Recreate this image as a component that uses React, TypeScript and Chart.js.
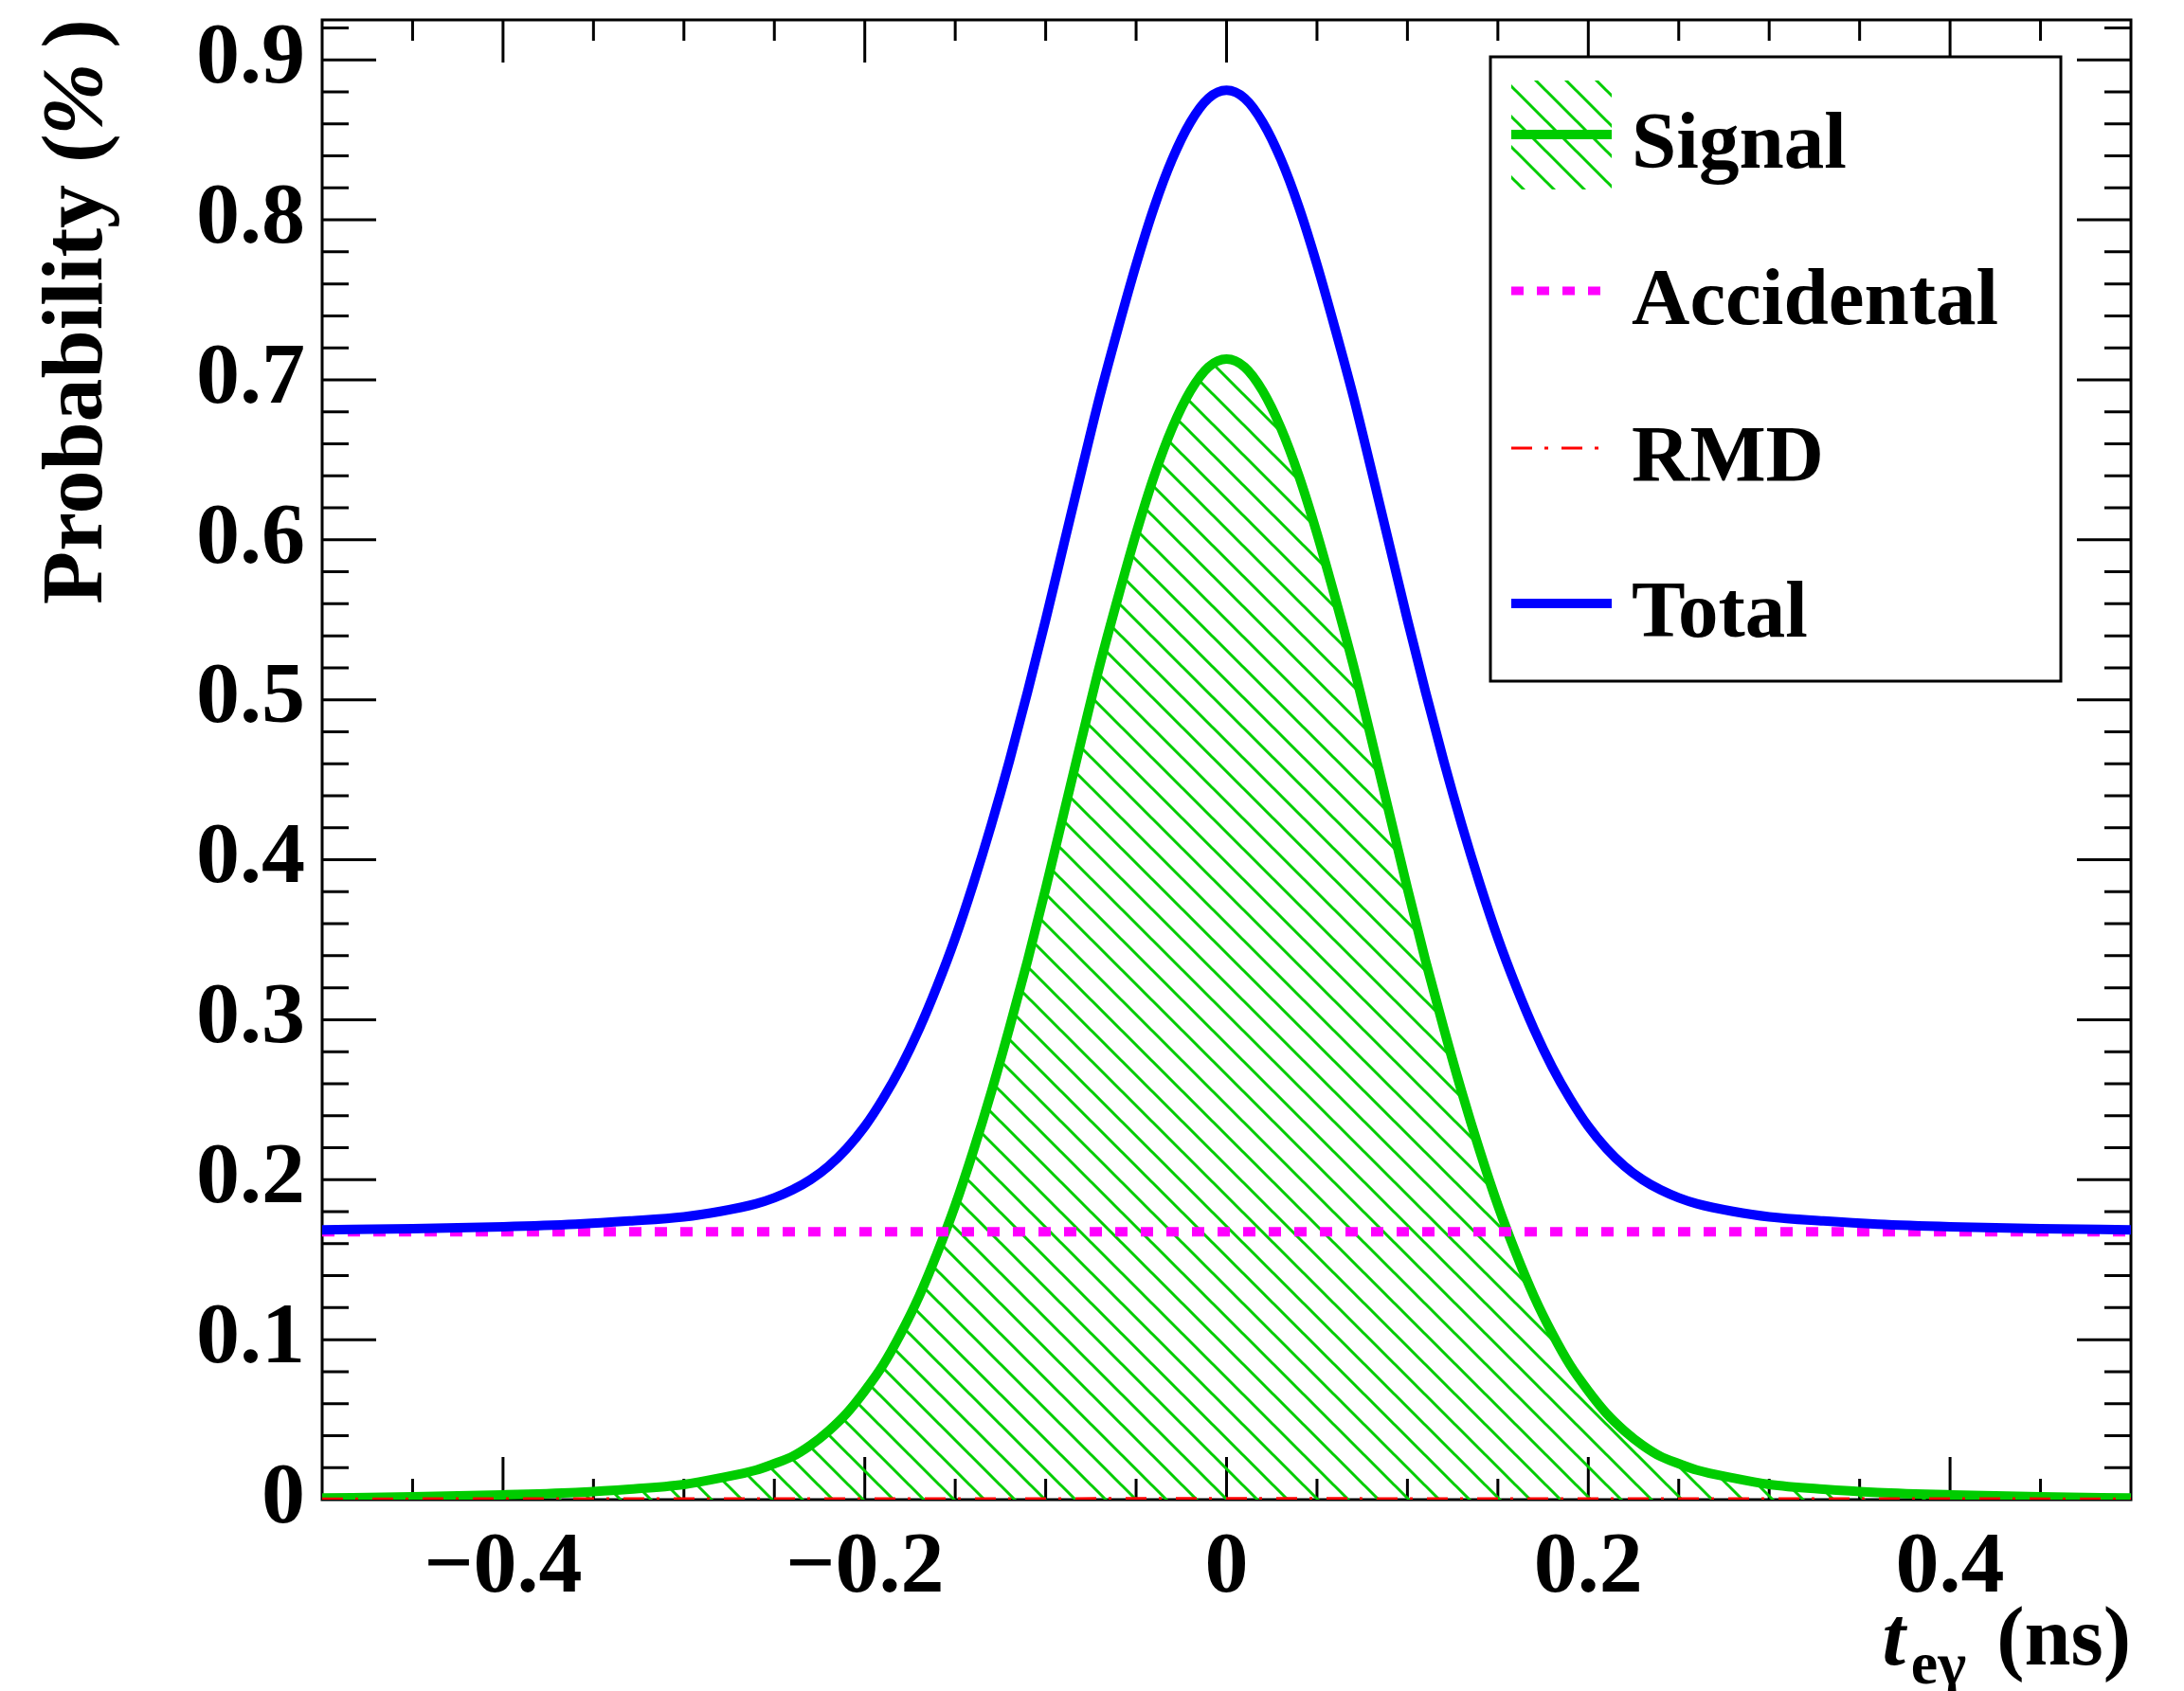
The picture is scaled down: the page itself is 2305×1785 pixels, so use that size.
import React, { useEffect, useRef } from 'react';
import { Chart, registerables } from 'chart.js';

Chart.register(...registerables);

// ---- data ----
const T_CURVE = [
  -0.5, -0.45, -0.4, -0.36, -0.33, -0.3, -0.28, -0.26, -0.25, -0.24, -0.23, -0.22, -0.21, -0.2, -0.19, -0.18,
  -0.17, -0.16, -0.15, -0.14, -0.13, -0.12, -0.11, -0.1, -0.09, -0.08, -0.07, -0.06, -0.05, -0.04, -0.03, -0.02,
  -0.01, 0, 0.01, 0.02, 0.03, 0.04, 0.05, 0.06, 0.07, 0.08, 0.09, 0.1, 0.11, 0.12, 0.13, 0.14, 0.15, 0.16, 0.17,
  0.18, 0.19, 0.2, 0.21, 0.22, 0.23, 0.24, 0.25, 0.26, 0.28, 0.3, 0.33, 0.36, 0.4, 0.45, 0.5,
];

const SIGNAL = [
  0.001, 0.0018, 0.003, 0.0045, 0.0065, 0.0095, 0.0135, 0.0185, 0.0225, 0.027, 0.034, 0.043, 0.054, 0.068, 0.084,
  0.104, 0.127, 0.154, 0.184, 0.218, 0.255, 0.295, 0.337, 0.382, 0.429, 0.476, 0.522, 0.564, 0.604, 0.64, 0.67,
  0.693, 0.708, 0.713, 0.708, 0.693, 0.67, 0.64, 0.604, 0.564, 0.522, 0.476, 0.429, 0.382, 0.337, 0.295, 0.255,
  0.218, 0.184, 0.154, 0.127, 0.104, 0.084, 0.068, 0.054, 0.043, 0.034, 0.027, 0.0225, 0.0185, 0.0135, 0.0095,
  0.0065, 0.0045, 0.003, 0.0018, 0.001,
];

const TOTAL = [
  0.1686, 0.1694, 0.1706, 0.1722, 0.1742, 0.1768, 0.1802, 0.185, 0.1887, 0.1936, 0.2, 0.2085, 0.2195, 0.2333, 0.2505,
  0.2705, 0.294, 0.321, 0.351, 0.385, 0.422, 0.462, 0.505, 0.55, 0.597, 0.644, 0.69, 0.732, 0.772, 0.808, 0.838,
  0.861, 0.876, 0.881, 0.876, 0.861, 0.838, 0.808, 0.772, 0.732, 0.69, 0.644, 0.597, 0.55, 0.505, 0.462, 0.422,
  0.385, 0.351, 0.321, 0.294, 0.2705, 0.2505, 0.2333, 0.2195, 0.2085, 0.2, 0.1936, 0.1887, 0.185, 0.1802,
  0.1768, 0.1742, 0.1722, 0.1706, 0.1694, 0.1686,
];

const T_ACCIDENTAL = [-0.5, 0.5];
const ACCIDENTAL = [0.1675, 0.1675];

const T_RMD = [-0.5, -0.25, 0, 0.25, 0.5];
const RMD = [0.0002, 0.0003, 0.0004, 0.0003, 0.0002];

const LEGEND_LABELS = ['Signal', 'Accidental', 'RMD', 'Total'];

const X_RANGE = [-0.5, 0.5];
const Y_RANGE = [0, 0.925];
const X_TICK_VALUES = [-0.4, -0.2, 0, 0.2, 0.4];
const X_MAJOR_STEP = 0.2;
const X_MINOR_STEP = 0.05;
const Y_MAJOR_STEP = 0.1;
const Y_MINOR_STEP = 0.02;

// ---- styles ----
const GREEN = 'rgb(0,204,0)';
const MAGENTA = 'rgb(255,0,255)';
const RED = 'rgb(255,0,0)';
const BLUE = 'rgb(0,0,255)';
const SERIF = '"Liberation Serif", "Times New Roman", serif';

const fmt = (v: number) =>
  Math.abs(v) < 1e-9 ? '0' : (v < 0 ? '\u2212' : '') + Math.abs(v).toFixed(1);

function makeHatch(ctx: CanvasRenderingContext2D): CanvasPattern | string {
  const c = document.createElement('canvas');
  c.width = 32;
  c.height = 32;
  const g = c.getContext('2d');
  if (!g) return GREEN;
  g.strokeStyle = GREEN;
  g.lineWidth = 3;
  g.beginPath();
  for (const off of [-32, 0, 32]) {
    g.moveTo(off - 4, -4);
    g.lineTo(off + 36, 36);
  }
  g.stroke();
  return ctx.createPattern(c, 'repeat') || GREEN;
}

const framePlugin = {
  id: 'rootFrame',
  beforeDatasetsDraw(chart: any) {
    const { ctx, chartArea: a, scales } = chart;
    const x = scales.x;
    const y = scales.y;
    ctx.save();
    ctx.strokeStyle = '#000';
    ctx.lineWidth = 3;
    ctx.strokeRect(a.left, a.top, a.right - a.left, a.bottom - a.top);
    ctx.beginPath();
    const nx = Math.round((X_RANGE[1] - X_RANGE[0]) / X_MINOR_STEP);
    const ratioX = Math.round(X_MAJOR_STEP / X_MINOR_STEP);
    for (let i = 1; i < nx; i++) {
      const v = X_RANGE[0] + i * X_MINOR_STEP;
      const k = Math.round(v / X_MINOR_STEP);
      const len = k % ratioX === 0 ? 45 : 22;
      const px = x.getPixelForValue(v);
      ctx.moveTo(px, a.bottom);
      ctx.lineTo(px, a.bottom - len);
      ctx.moveTo(px, a.top);
      ctx.lineTo(px, a.top + len);
    }
    const ny = Math.floor((Y_RANGE[1] - Y_RANGE[0]) / Y_MINOR_STEP + 1e-6);
    const ratioY = Math.round(Y_MAJOR_STEP / Y_MINOR_STEP);
    for (let k = 1; k <= ny; k++) {
      const v = Y_RANGE[0] + k * Y_MINOR_STEP;
      const len = k % ratioY === 0 ? 57 : 28;
      const py = y.getPixelForValue(v);
      ctx.moveTo(a.left, py);
      ctx.lineTo(a.left + len, py);
      ctx.moveTo(a.right, py);
      ctx.lineTo(a.right - len, py);
    }
    ctx.stroke();
    ctx.restore();
  },
  afterDraw(chart: any) {
    const { ctx, chartArea: a } = chart;
    ctx.save();
    ctx.fillStyle = '#000';
    ctx.textBaseline = 'alphabetic';

    // x title: t_{e gamma} (ns), right aligned to the axis end
    const big = 88;
    const small = 64;
    ctx.font = `bold ${big}px ${SERIF}`;
    const wUnit = ctx.measureText('(ns)').width;
    ctx.font = `bold ${small}px ${SERIF}`;
    const wSub = ctx.measureText('e\u03b3').width;
    ctx.font = `italic bold ${big}px ${SERIF}`;
    const wT = ctx.measureText('t').width;
    const baseX = 1757;
    const xr = a.right;
    const xUnit = xr - wUnit;
    const xSub = xUnit - 32 - wSub;
    const xT = xSub - 6 - wT;
    ctx.font = `italic bold ${big}px ${SERIF}`;
    ctx.fillText('t', xT, baseX);
    ctx.font = `bold ${small}px ${SERIF}`;
    ctx.fillText('e\u03b3', xSub, baseX + 20);
    ctx.font = `bold ${big}px ${SERIF}`;
    ctx.fillText('(ns)', xUnit, baseX);

    // y title rotated, aligned to the top end
    const ysz = 92;
    ctx.save();
    ctx.translate(107, a.top - 1);
    ctx.rotate(-Math.PI / 2);
    ctx.textAlign = 'right';
    ctx.font = `bold ${ysz}px ${SERIF}`;
    ctx.fillText(')', 0, 0);
    const wClose = ctx.measureText(')').width;
    ctx.font = `italic bold ${ysz}px ${SERIF}`;
    const pctRight = -wClose - 16;
    ctx.fillText('%', pctRight, 0);
    const wPct = ctx.measureText('%').width;
    ctx.font = `bold ${ysz}px ${SERIF}`;
    ctx.fillText('Probability (', pctRight - wPct + 2, 0);
    ctx.restore();

    // legend
    const L = 1573, R = 2175, T = 60, B = 719;
    ctx.fillStyle = '#fff';
    ctx.fillRect(L, T, R - L, B - T);
    ctx.strokeStyle = '#000';
    ctx.lineWidth = 3;
    ctx.strokeRect(L, T, R - L, B - T);
    const rows = [142, 307, 473, 637];
    const sx0 = 1595, sx1 = 1701;
    // signal: hatch box + line
    ctx.fillStyle = makeHatch(ctx);
    ctx.fillRect(sx0, rows[0] - 57, sx1 - sx0, 115);
    ctx.strokeStyle = GREEN;
    ctx.lineWidth = 10;
    ctx.beginPath();
    ctx.moveTo(sx0, rows[0]);
    ctx.lineTo(sx1, rows[0]);
    ctx.stroke();
    // accidental
    ctx.strokeStyle = MAGENTA;
    ctx.lineWidth = 9;
    ctx.setLineDash([13, 14]);
    ctx.beginPath();
    ctx.moveTo(sx0, rows[1]);
    ctx.lineTo(1690, rows[1]);
    ctx.stroke();
    // rmd
    ctx.strokeStyle = RED;
    ctx.lineWidth = 3;
    ctx.setLineDash([22, 13, 4, 14]);
    ctx.beginPath();
    ctx.moveTo(sx0, rows[2]);
    ctx.lineTo(1690, rows[2]);
    ctx.stroke();
    ctx.setLineDash([]);
    // total
    ctx.strokeStyle = BLUE;
    ctx.lineWidth = 10;
    ctx.beginPath();
    ctx.moveTo(sx0, rows[3]);
    ctx.lineTo(sx1, rows[3]);
    ctx.stroke();
    ctx.fillStyle = '#000';
    ctx.textAlign = 'left';
    ctx.font = `bold 85px ${SERIF}`;
    LEGEND_LABELS.forEach((lab, i) => ctx.fillText(lab, 1722, rows[i] + 35));
    ctx.restore();
  },
};

export default function App() {
  const ref = useRef<HTMLCanvasElement | null>(null);
  useEffect(() => {
    const canvas = ref.current;
    if (!canvas) return;
    const ctx = canvas.getContext('2d');
    if (!ctx) return;
    const hatch = makeHatch(ctx);
    const tickFont = { family: SERIF, weight: 'bold' as const, size: 92, lineHeight: 1 };
    const chart = new Chart(ctx, {
      type: 'line',
      data: {
        datasets: [
          {
            label: LEGEND_LABELS[0],
            data: T_CURVE.map((x, i) => ({ x, y: SIGNAL[i] })),
            borderColor: GREEN,
            borderWidth: 10,
            backgroundColor: hatch as any,
            fill: 'origin',
            pointRadius: 0,
            cubicInterpolationMode: 'monotone',
            borderJoinStyle: 'round',
            order: 4,
          },
          {
            label: LEGEND_LABELS[1],
            data: T_ACCIDENTAL.map((x, i) => ({ x, y: ACCIDENTAL[i] })),
            borderColor: MAGENTA,
            borderWidth: 10,
            borderDash: [13, 14],
            fill: false,
            pointRadius: 0,
            order: 3,
          },
          {
            label: LEGEND_LABELS[2],
            data: T_RMD.map((x, i) => ({ x, y: RMD[i] })),
            borderColor: RED,
            borderWidth: 4,
            borderDash: [22, 13, 3, 15],
            fill: false,
            pointRadius: 0,
            order: 2,
          },
          {
            label: LEGEND_LABELS[3],
            data: T_CURVE.map((x, i) => ({ x, y: TOTAL[i] })),
            borderColor: BLUE,
            borderWidth: 10,
            fill: false,
            pointRadius: 0,
            cubicInterpolationMode: 'monotone',
            borderJoinStyle: 'round',
            order: 1,
          },
        ],
      },
      options: {
        responsive: false,
        animation: false,
        devicePixelRatio: 1,
        events: [],
        layout: { padding: { left: 0, right: 56, top: 21, bottom: 0 } },
        plugins: { legend: { display: false }, tooltip: { enabled: false }, title: { display: false } },
        scales: {
          x: {
            type: 'linear',
            min: X_RANGE[0],
            max: X_RANGE[1],
            grid: { display: false, drawTicks: false },
            border: { display: false },
            afterBuildTicks: (s: any) => {
              s.ticks = X_TICK_VALUES.map((v) => ({ value: v }));
            },
            ticks: {
              autoSkip: false,
              maxRotation: 0,
              minRotation: 0,
              padding: 27,
              color: '#000',
              font: tickFont,
              callback: (v: any) => fmt(Number(v)),
            },
            afterFit: (s: any) => {
              s.height = 202;
              s.paddingLeft = 0;
              s.paddingRight = 0;
            },
          },
          y: {
            type: 'linear',
            min: Y_RANGE[0],
            max: Y_RANGE[1],
            grid: { display: false, drawTicks: false },
            border: { display: false },
            ticks: {
              stepSize: Y_MAJOR_STEP,
              includeBounds: false,
              autoSkip: false,
              padding: 18,
              color: '#000',
              font: tickFont,
              callback: (v: any) => fmt(Number(v)),
            },
            afterFit: (s: any) => {
              s.width = 340;
              s.paddingTop = 0;
              s.paddingBottom = 0;
            },
          },
        },
      } as any,
      plugins: [framePlugin],
    });
    return () => chart.destroy();
  }, []);

  return (
    <div style={{ position: 'absolute', left: 0, top: 0, width: 2305, height: 1785, background: '#fff' }}>
      <canvas ref={ref} width={2305} height={1785} style={{ display: 'block', width: 2305, height: 1785 }} />
    </div>
  );
}
